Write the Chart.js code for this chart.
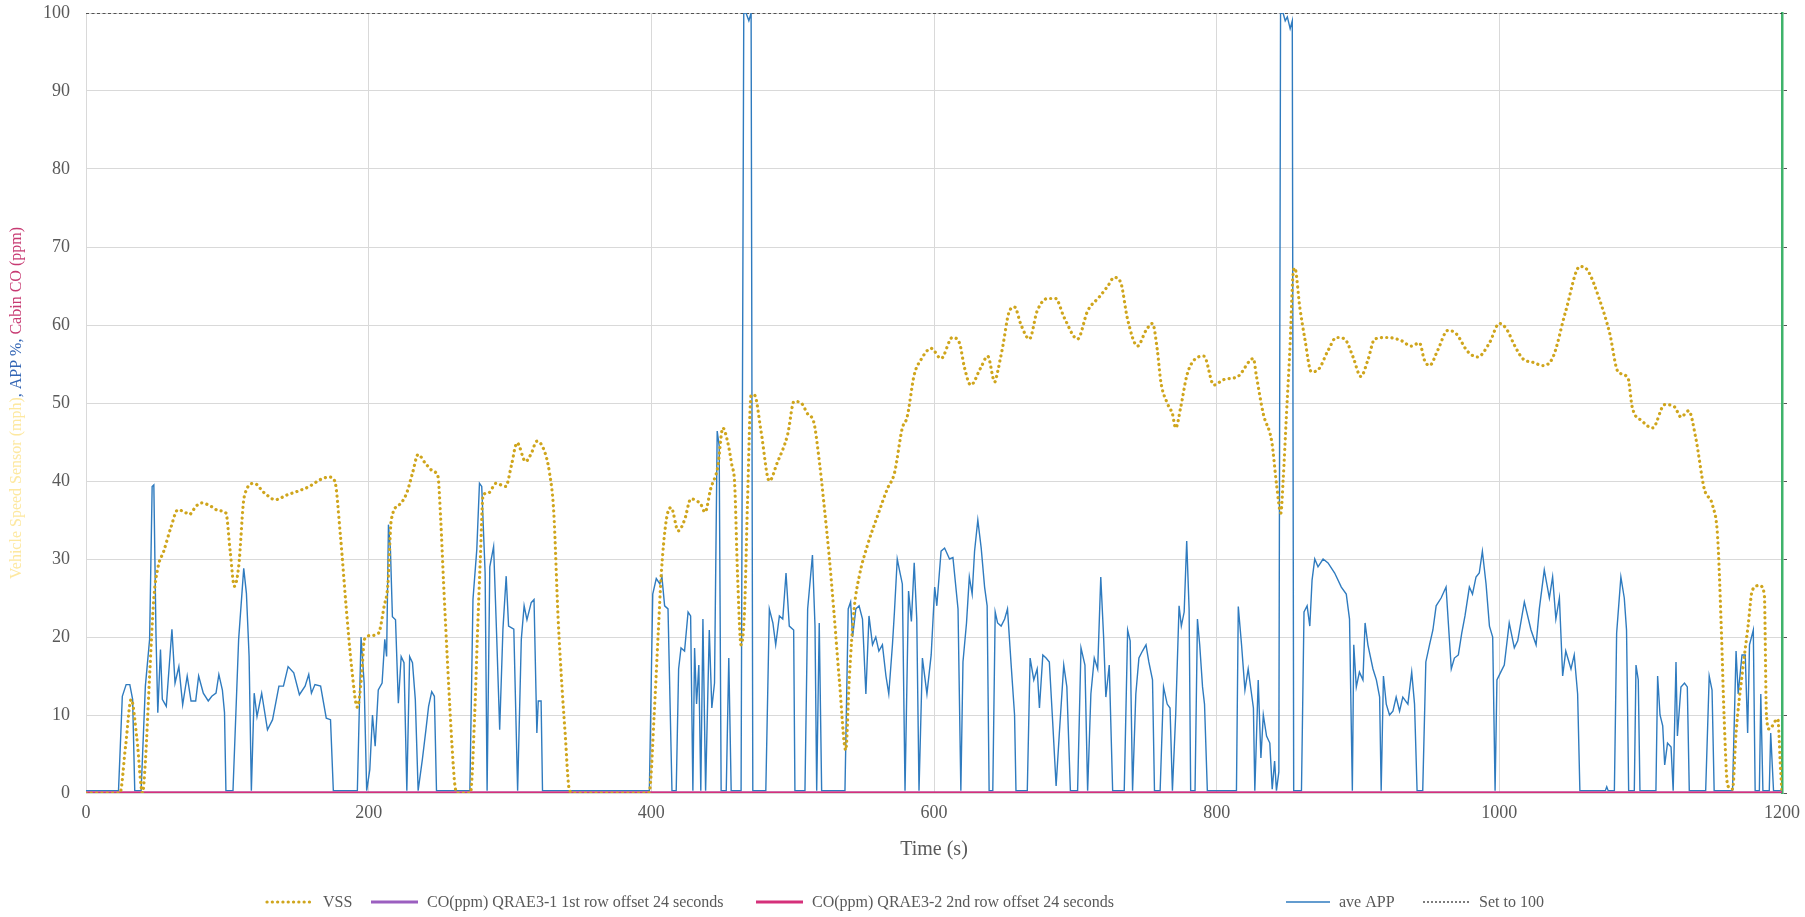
<!DOCTYPE html>
<html>
<head>
<meta charset="utf-8">
<script src="https://cdn.jsdelivr.net/npm/chart.js@4/dist/chart.umd.min.js"></script>
<style>
  html, body { margin: 0; padding: 0; background: #ffffff; }
  #wrap { width: 1805px; height: 917px; }
</style>
</head>
<body>
<div id="wrap"><canvas id="c" width="1805" height="917"></canvas></div>
<script>
// Vehicle speed sensor trace: [time s, speed]
const vssPoints = [
  [0,0],[24,0],[28,6],[32,12],[36,7],[40,0],[42,4],[45,15],[48,25],[51,29],[55,31],[60,34],[65,36.3],
  [70,36],[73,35.7],[78,36.8],[82,37.2],[88,36.8],[94,36.2],[99,35.9],[102,31],[105,26.5],[108,29],
  [112,38],[119,39.7],[126,38.5],[134,37.6],[142,38.2],[150,38.7],[158,39.3],[166,40.2],[172,40.5],
  [176,40],[180,33],[184,24],[188,16],[192,11],[195,15],[197,19.7],[202,20.2],[207,20.5],[211,24],
  [213.5,26.5],[216,35],[222,37],[227,38.5],[231,41],[235,43.4],[240,42.3],[246,41.2],[249,40.6],
  [251,35],[253,27],[256,16],[259,6],[261,1],[263,0],[272,0],[275,10],[277,20.5],[279,30],[281,38.2],
  [285,38.5],[290,39.7],[297,39.3],[301,42],[305,44.9],[311,42.5],[315,43.5],[319,45.1],[324,44],
  [328,41],[331,35.9],[334,22.6],[337,13],[339,7.7],[342,0.4],[345,0],[398,0],[399,0.5],[402,10],
  [405,21],[407,28],[410.6,35],[414,36.6],[419,33.6],[423.5,35],[428,37.7],[435,37],[438,36],[442,39],
  [447,41.8],[450.6,46.8],[454,45],[457,42],[459,39.5],[461,28],[463.5,19],[466,23.6],[468,37],
  [470.6,51],[473,51],[477.6,46.4],[483.5,40],[489,42.3],[496.5,46],[501,50.2],[506,50],[510.6,48.6],
  [515,47.5],[519,42.3],[522,37.3],[526,30],[529,23.6],[533,14.5],[537.6,5.5],[540,14.5],[543.5,23.6],
  [547,27.7],[553,31.8],[560,35.5],[567,39],[572,41],[577.6,46.8],[581,48.2],[586,53.6],[590.6,55.5],
  [598,57],[605,55.7],[613,58.4],[618,57.7],[621.6,54.5],[626,52.3],[633,54.5],[638,56],[643,52.7],
  [645,54],[648.7,57.3],[653,61.6],[657,62.3],[661.6,60],[667.5,58.2],[673,61.8],[680.5,63.4],
  [686,63.4],[692,61],[701.6,58.2],[708.7,61.8],[717,63.6],[723,65],[727.5,66.1],[732,65.5],[737,60.7],
  [744,57.3],[750,59.3],[754.6,60.2],[758,56.8],[760.5,52.7],[765,50],[768.7,48.6],[771,46.8],
  [774.6,49.5],[779,53.6],[784,55.5],[791,56],[798,52.3],[805,53],[815,53.4],[826,55.7],[828,53.6],
  [833,48.6],[839,45],[842.4,39.5],[845.4,35.9],[847,40],[849.4,48.6],[852,57.7],[854,66.4],[855.3,67.3],
  [858.8,62.3],[862.4,58.2],[867,54],[872,54.3],[879,56.8],[884.7,58.4],[890.6,58.2],[896.5,55.9],
  [902,53.4],[907,55.5],[911.8,58.2],[921,58.4],[930.6,58],[937.6,57.3],[943.5,57.7],[947,55.5],
  [950.6,54.8],[956.5,56.8],[963.5,59.3],[969.4,58.9],[977.6,56.6],[984.7,55.9],[993,57.7],[1000,60.2],
  [1005,59.5],[1011,57.3],[1016.5,55.7],[1024,55.2],[1031,54.8],[1038,55.9],[1047,61.8],[1057,67.5],
  [1062.5,67],[1071,63.2],[1078,59],[1084,54],[1091,53.2],[1094,49.5],[1101,47.7],[1108.5,46.8],
  [1117,49.8],[1124,49.5],[1128.5,48.2],[1134,49],[1139,45.5],[1145,39],[1151,36.8],[1154.5,32.7],
  [1157,21.4],[1159,10],[1161.5,1],[1165,0.5],[1167.5,7.7],[1172,15.5],[1176,21.4],[1179,26],
  [1184,26.6],[1187.5,25.5],[1189,10],[1191,8.2],[1197,9.5],[1199,3],[1200,0]
];

// Averaged accelerator pedal position: [time s, %]
const appPoints = [
  [0,0.3],[23,0.3],[25.7,12.4],[28.4,13.9],[31,13.9],[33,12],[34.5,0.3],[39,0.3],[42,13.7],[45,19.7],
  [46.8,39.3],[48,39.5],[49.5,20.5],[50.8,10.3],[52.7,18.4],[54,12],[56.8,11.1],[60.8,21],[63,14.1],
  [65.7,16.2],[68.4,11.3],[71.6,15],[74.3,11.8],[77.6,11.8],[79.7,15],[83,12.8],[86.5,11.8],[89,12.4],
  [92,12.8],[94,15.2],[96.5,13.2],[98,10.3],[99,0.3],[104,0.3],[108,19.7],[111.6,28.8],[113.5,25.6],
  [115.4,17.5],[117,0.3],[119,12.8],[121,9.8],[124.3,12.8],[128.4,8.1],[132,9.4],[136.5,13.7],
  [139.7,13.7],[143,16.2],[147,15.4],[151,12.6],[155,13.7],[157.6,15.2],[159.5,12.8],[162,13.9],
  [166,13.7],[170,9.6],[173,9.4],[175,0.3],[192,0.3],[194.6,20],[196.8,14.1],[198.6,0.3],[200.8,3],
  [202.7,10],[204.6,6],[206.8,13.2],[209.5,14.1],[211.4,19.7],[212.7,17.5],[214,34.4],[215.4,31.2],
  [216.8,22.6],[219,22.2],[221,11.5],[223,17.5],[225,16.7],[227,0.3],[229,17.5],[231,16.7],[233,12],
  [235,0.3],[238,4.3],[240.5,8.1],[242.4,11.1],[244.6,13],[246.5,12.4],[248,0.3],[271.6,0.3],
  [273.8,24.8],[276.5,31.2],[278.4,39.7],[280,39.3],[282.4,28.2],[283.8,0.3],[285.7,29],[288.4,31.6],
  [290.5,20.5],[292.7,8.1],[295,21],[297.3,27.8],[299,21.4],[302.7,21],[305.4,0.3],[308,19.7],[310,24],
  [312,22.2],[315,24.4],[317,24.8],[319,7.7],[320,11.8],[322,11.8],[323,0.3],[398.6,0.3],[401,25.5],
  [403.5,27.5],[406,26.8],[407.5,27.7],[409.4,24],[411.8,23.6],[414.6,0.3],[417.6,0.3],[419.3,15.9],
  [421,18.6],[423.5,18.2],[426,23.2],[427.8,22.7],[429.4,0.3],[430.6,18.6],[432,11.4],[433.6,16.4],
  [435,0.3],[436.5,22.3],[438.4,0.3],[441,20.9],[442.8,10.9],[444.7,14.1],[446.6,46.4],[448,44.5],
  [449.4,0.3],[453,0.3],[454.8,17.3],[456.5,0.3],[463.5,0.3],[465.4,100],[467,100],[469,99],
  [470.6,100],[471.8,0.3],[481,0.3],[483.5,23.6],[486,21.8],[488,19],[490.6,22.7],[493,22.3],
  [495.3,28.2],[497.6,21.4],[500.7,20.9],[501.6,0.3],[508.7,0.3],[510.6,23.6],[514,30.5],[515.8,21.4],
  [517,0.3],[518.8,21.8],[520.5,0.3],[537,0.3],[539.3,23.6],[541,24.5],[542.4,20],[544.7,23.6],[547,24],
  [549.4,22.3],[551.8,12.7],[554,22.7],[556.5,19],[558.8,20],[561,18.2],[563.5,19],[566,15],[568,12.7],
  [570.6,19],[572,23.2],[574,30],[576,28.2],[577.6,26.8],[579.5,0.3],[582,25.9],[584,22],[586,29.5],
  [587.8,22.3],[589.4,0.3],[591.8,17.3],[595,12.7],[598,17.7],[600.5,26.4],[602,24],[605,31],
  [607.5,31.4],[611,30],[613.4,30.2],[617,23.6],[619,0.3],[620.5,16.8],[623,21.8],[625,27.7],
  [627,25.5],[628.7,31],[631,35],[633.4,31.4],[635.8,26.4],[637.6,24],[639,0.3],[641.6,0.3],
  [643.3,23.2],[645,21.8],[647.5,21.4],[650,22.3],[652,23.6],[654.6,16.4],[657,10],[658,0.3],[666,0.3],
  [668,17.3],[670.6,14.5],[673,15.9],[674.6,10.9],[677,17.7],[679.3,17.3],[681.6,16.8],[684,9],
  [686.4,0.9],[688.7,7.7],[691.8,16.4],[694,13.6],[696.5,0.3],[701.6,0.3],[704,18.6],[706.8,16.4],
  [708.7,0.3],[711,12.7],[713.4,17.3],[715.8,15.9],[718,27.7],[720,20],[721.6,12.3],[724,16.4],
  [726.4,0.3],[734.6,0.3],[737,20.9],[738.8,19.5],[740.5,0.3],[742.8,12.7],[745,17.3],[747.5,18.2],
  [750,19],[752,16.8],[754.6,14.5],[756,0.3],[760,0.3],[762.4,13.6],[765,11.4],[767,10.9],[768.7,0.3],
  [771,10],[773.4,24],[775,21.4],[777,23.2],[778.8,32.3],[780.5,23.6],[781.6,0.3],[784.7,0.3],
  [786.4,22.3],[788,19],[790,13.6],[791.4,11.4],[793.4,0.3],[814,0.3],[815.3,23.9],[817.6,19],
  [820,13.2],[822.3,15.9],[826,10.9],[827,0.3],[829.4,14.5],[831.3,4.5],[833,10],[835.3,7.3],
  [837.6,6.4],[839.3,0.5],[841,4.1],[842.3,0.3],[844,2.7],[845.2,100],[847,100],[848.5,99],[850,99.5],
  [852,98],[853.5,99],[854.5,0.3],[860,0.3],[861.8,23.2],[864,24],[865.9,21.4],[867.5,27.3],[869.4,30],
  [871.7,29],[875.3,30],[878.8,29.5],[883.5,28.2],[888.2,26.4],[891.7,25.5],[894,22.3],[896,0.3],
  [897,19],[898.8,13.6],[901,15.5],[903.5,14.5],[905,21.8],[907,19],[910.6,15.9],[913,14.5],
  [915.3,12.3],[916.4,0.3],[918,15],[920,11.4],[922.3,10],[924.7,10.5],[927,12.3],[929.4,10.5],
  [931.7,12.3],[935.3,11.4],[938,15.5],[940,11.4],[941.8,0.3],[945.8,0.3],[948,16.8],[950.6,19],
  [953,20.9],[955.3,24],[958.8,25],[962.3,26.4],[966,15.9],[968.2,17.3],[971,17.7],[973.4,20.5],
  [975.7,22.7],[978.8,26.4],[981,25.5],[983.5,27.7],[985.8,28.2],[988,31],[990.6,26.8],[993,21.4],
  [995.3,20],[997,0.3],[998.3,14.5],[1001,15.5],[1003.5,16.4],[1007,21.8],[1010.6,18.6],[1013,19.5],
  [1017.7,24.5],[1022.4,20.9],[1026,19],[1028.3,23.6],[1031.8,28.6],[1035.4,25],[1037.7,27.7],
  [1040,22.3],[1042.5,25],[1044.8,15],[1047,18.2],[1050.7,15.9],[1053,17.7],[1055.4,12.7],[1057,0.3],
  [1075,0.3],[1076,0.8],[1077,0.3],[1081.4,0.3],[1083,20.5],[1086,27.7],[1088.4,25],[1090,20.9],
  [1091.5,0.3],[1095.5,0.3],[1096.7,16.4],[1098.3,14.5],[1099.5,0.3],[1110.8,0.3],[1112,15],
  [1113.7,10],[1115.6,8.6],[1117,3.6],[1119,6.4],[1121.5,5.9],[1123,0.3],[1125,16.8],[1126,7.3],
  [1128.5,13.6],[1131,14.1],[1133,13.6],[1134.4,0.3],[1146,0.3],[1148.5,15],[1150.5,13.2],[1152,0.3],
  [1165,0.3],[1167.5,18.2],[1169,12.7],[1171.7,17.7],[1174,17.7],[1175.7,7.7],[1177,19],[1179.7,20.9],
  [1181,0.3],[1184,0.3],[1185,12.7],[1186.5,0.3],[1191,0.3],[1192,7.7],[1194,0.3],[1200,0.3]
];

// Cabin CO readings from the two QRAE3 monitors (both read zero throughout)
const coTimes = [0, 1200];
const coRow1 = [0, 0];
const coRow2 = [0, 0];

// Reference line
const refTimes = [0, 1200];
const refValues = [100, 100];

// Axis ranges and ticks
const xTicks = [0, 200, 400, 600, 800, 1000, 1200];
const yTicks = [0, 10, 20, 30, 40, 50, 60, 70, 80, 90, 100];

const seriesNames = [
  'VSS',
  'CO(ppm) QRAE3-1 1st row offset 24 seconds',
  'CO(ppm) QRAE3-2 2nd row offset 24 seconds',
  'ave APP',
  'Set to 100'
];

const yTitleParts = [
  ['Vehicle Speed Sensor (mph)', '#fde8a0'],
  [', APP %, ', '#3164b4'],
  ['Cabin CO (ppm)', '#c73a72']
];

const SERIF = '"Liberation Serif", "DejaVu Serif", serif';
const toXY = pts => pts.map(p => ({ x: p[0], y: p[1] }));
const zip = (xs, ys) => xs.map((x, i) => ({ x, y: ys[i] }));

// Multi-coloured vertical axis title
const yTitlePlugin = {
  id: 'yTitle',
  afterDraw(chart) {
    const { ctx, chartArea } = chart;
    ctx.save();
    ctx.font = '16px ' + SERIF;
    const total = yTitleParts.reduce((s, p) => s + ctx.measureText(p[0]).width, 0);
    ctx.translate(17, (chartArea.top + chartArea.bottom) / 2);
    ctx.rotate(-Math.PI / 2);
    ctx.textBaseline = 'middle';
    ctx.textAlign = 'left';
    let x = -total / 2;
    for (const [text, color] of yTitleParts) {
      ctx.fillStyle = color;
      ctx.fillText(text, x, 0);
      x += ctx.measureText(text).width;
    }
    ctx.restore();
  }
};

// Bottom legend with per-item placement
const legendStarts = [267, 371, 756, 1286, 1423];
const legendPlugin = {
  id: 'lineLegend',
  afterDraw(chart) {
    const { ctx } = chart;
    const y = 902;
    ctx.save();
    ctx.font = '16px ' + SERIF;
    ctx.textBaseline = 'middle';
    chart.data.datasets.forEach((ds, i) => {
      const x0 = legendStarts[i];
      const len = i === 3 ? 44 : 47;
      ctx.beginPath();
      ctx.strokeStyle = ds.borderColor;
      ctx.lineWidth = ds.legendWidth || ds.borderWidth;
      ctx.lineCap = ds.borderCapStyle || 'butt';
      ctx.setLineDash(ds.legendDash || ds.borderDash || []);
      ctx.moveTo(x0, y);
      ctx.lineTo(x0 + len, y);
      ctx.stroke();
      ctx.setLineDash([]);
      ctx.fillStyle = '#595959';
      ctx.fillText(ds.label, x0 + len + 9, y + 1);
    });
    ctx.restore();
  }
};

new Chart(document.getElementById('c'), {
  type: 'line',
  data: {
    datasets: [
      {
        label: seriesNames[0],
        data: toXY(vssPoints),
        borderColor: '#cfa51c',
        borderWidth: 3.2,
        borderDash: [0.1, 5.2],
        borderCapStyle: 'round',
        cubicInterpolationMode: 'monotone',
        pointRadius: 0,
        fill: false,
        order: 0
      },
      {
        label: seriesNames[1],
        data: zip(coTimes, coRow1),
        borderColor: '#9b5fc0',
        borderWidth: 3,
        pointRadius: 0,
        fill: false,
        order: 2
      },
      {
        label: seriesNames[2],
        data: zip(coTimes, coRow2),
        borderColor: '#d5307a',
        borderWidth: 3,
        pointRadius: 0,
        fill: false,
        order: 1
      },
      {
        label: seriesNames[3],
        data: toXY(appPoints),
        borderColor: '#2f7bbf',
        borderWidth: 1.4,
        legendWidth: 1.6,
        tension: 0,
        pointRadius: 0,
        fill: false,
        order: 3
      },
      {
        label: seriesNames[4],
        data: zip(refTimes, refValues),
        borderColor: '#262626',
        borderWidth: 1.5,
        borderDash: [3, 2.5],
        legendWidth: 1.2,
        legendDash: [2, 2],
        pointRadius: 0,
        fill: false,
        order: 4
      }
    ]
  },
  options: {
    responsive: false,
    animation: false,
    devicePixelRatio: 1,
    layout: { padding: { top: 0, left: 0, right: 0, bottom: 35 } },
    plugins: {
      legend: { display: false },
      tooltip: { enabled: false },
      title: { display: false }
    },
    scales: {
      x: {
        type: 'linear',
        min: xTicks[0],
        max: xTicks[xTicks.length - 1],
        afterBuildTicks: s => { s.ticks = xTicks.map(v => ({ value: v })); },
        ticks: {
          font: { family: SERIF, size: 18 }, color: '#595959', padding: 9, maxRotation: 0,
          callback: v => String(v)
        },
        grid: { color: '#d9d9d9', lineWidth: 1, drawTicks: false },
        border: { display: false },
        title: {
          display: true,
          text: 'Time (s)',
          color: '#595959',
          font: { family: SERIF, size: 20 },
          padding: { top: 4, bottom: 20 }
        },
        afterFit: s => { s.height = 89; s.paddingLeft = 0; s.paddingRight = 0; }
      },
      y: {
        type: 'linear',
        position: 'left',
        min: yTicks[0],
        max: yTicks[yTicks.length - 1],
        afterBuildTicks: s => { s.ticks = yTicks.map(v => ({ value: v })); },
        ticks: { font: { family: SERIF, size: 18 }, color: '#595959', padding: 16, callback: v => String(v) },
        grid: { color: '#d9d9d9', lineWidth: 1, drawTicks: false },
        border: { display: false },
        afterFit: s => { s.width = 86; s.paddingTop = 13; s.paddingBottom = 0; }
      },
      y2: {
        type: 'linear',
        position: 'right',
        min: yTicks[0],
        max: yTicks[yTicks.length - 1],
        afterBuildTicks: s => { s.ticks = yTicks.map(v => ({ value: v })); },
        ticks: { display: false },
        grid: { drawOnChartArea: false, drawTicks: true, tickLength: 5, color: '#555555', lineWidth: 1 },
        border: { display: true, color: '#3fb36b', width: 2.5 },
        afterFit: s => { s.width = 23; s.paddingTop = 0; s.paddingBottom = 0; }
      }
    }
  },
  plugins: [yTitlePlugin, legendPlugin]
});
</script>
</body>
</html>
